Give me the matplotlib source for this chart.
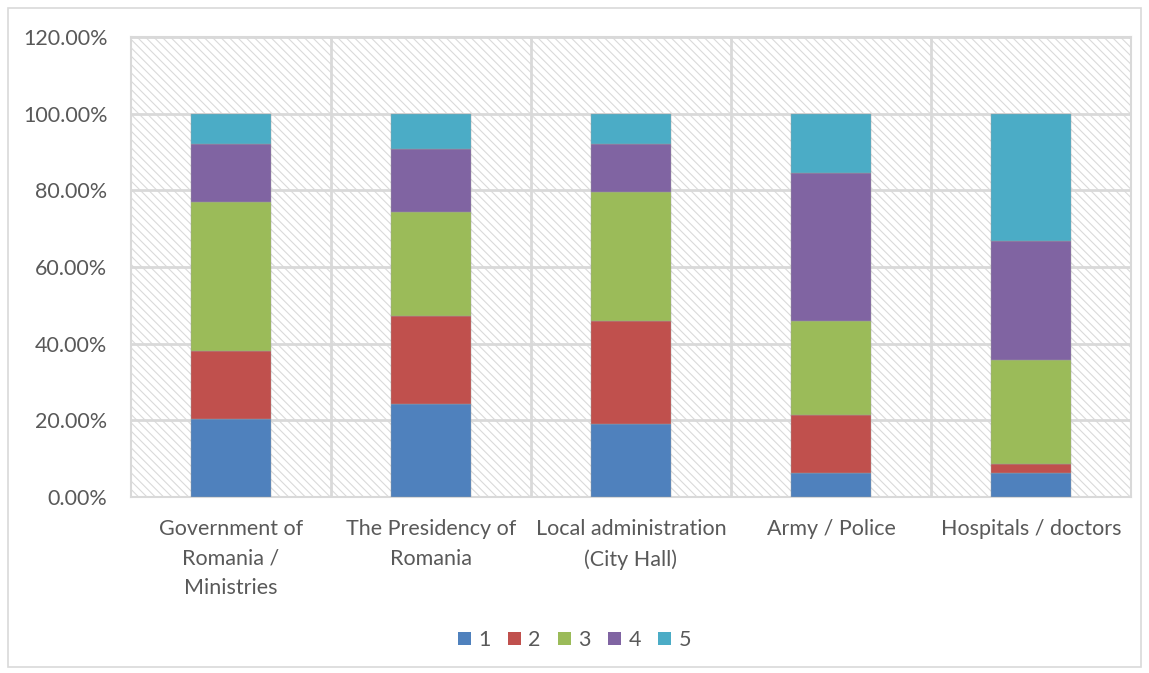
import numpy as np
import matplotlib.pyplot as plt
from matplotlib.patches import Rectangle, Patch
from matplotlib.ticker import PercentFormatter

categories = ['Government of\nRomania /\nMinistries', 'The Presidency of\nRomania',
              'Local administration\n(City Hall)', 'Army / Police', 'Hospitals / doctors']
series_names = ['1', '2', '3', '4', '5']
s1 = [20.3, 24.2, 19.1, 6.2, 6.2]
s2 = [17.9, 23.1, 26.9, 15.3, 2.5]
s3 = [38.7, 27.0, 33.6, 24.5, 27.1]
s4 = [15.3, 16.6, 12.6, 38.6, 30.9]
s5 = [7.8, 9.1, 7.8, 15.4, 33.3]
colors = ['#4F81BD', '#C0504D', '#9BBB59', '#8064A2', '#4BACC6']

plt.rcParams['font.family'] = ['Lato', 'DejaVu Sans']
plt.rcParams['hatch.linewidth'] = 0.8
plt.rcParams['hatch.color'] = '#DADADA'
text_color = '#595959'
grid_color = '#D9D9D9'

fig = plt.figure(figsize=(11.49, 6.73), dpi=100)
ax = fig.add_axes([131 / 1149, 1 - 497 / 673, 1000 / 1149, 460 / 673])

# hatched plot area background
ax.add_patch(Rectangle((0, 0), 1, 1, transform=ax.transAxes, facecolor='white',
                       edgecolor='#DADADA', hatch='\\\\\\\\', lw=0, zorder=0))

x = np.arange(len(categories))
bottom = np.zeros(len(categories))
for name, vals, c in zip(series_names, [s1, s2, s3, s4, s5], colors):
    ax.bar(x, vals, 0.4, bottom=bottom, color=c, label=name, zorder=3,
           edgecolor='#A0A0A0', linewidth=0.3)
    bottom += np.array(vals)

ax.set_xlim(-0.5, len(categories) - 0.5)
ax.set_ylim(0, 120)
ax.set_yticks(np.arange(0, 121, 20))
ax.yaxis.set_major_formatter(PercentFormatter(decimals=2))
ax.set_xticks(x)
ax.set_xticklabels(categories, linespacing=1.6)
ax.set_xticks(np.arange(0.5, len(categories) - 0.5, 1), minor=True)
ax.grid(True, which='major', axis='y', color=grid_color, lw=2, zorder=1)
ax.grid(True, which='minor', axis='x', color=grid_color, lw=2, zorder=1)
ax.tick_params(axis='both', which='both', length=0, labelsize=15.5, colors=text_color)
ax.tick_params(axis='y', pad=17)
ax.tick_params(axis='x', pad=16)
for sp in ax.spines.values():
    sp.set_color(grid_color)
    sp.set_linewidth(1.5)
ax.set_axisbelow(True)

handles = [Patch(facecolor=c, label=n) for n, c in zip(series_names, colors)]
leg = fig.legend(handles=handles, loc='center', bbox_to_anchor=(0.5, 1 - 640 / 673), ncol=5,
                 frameon=False, fontsize=15.5, handlelength=0.6, handleheight=0.6,
                 handletextpad=0.35, columnspacing=0.8)
for t in leg.get_texts():
    t.set_color(text_color)

fig.patches.append(Rectangle((8 / 1149, 1 - 667 / 673), 1133 / 1149, 659 / 673,
                             transform=fig.transFigure, fill=False,
                             edgecolor=grid_color, lw=1.2))

fig.savefig('out.png', dpi=100)
